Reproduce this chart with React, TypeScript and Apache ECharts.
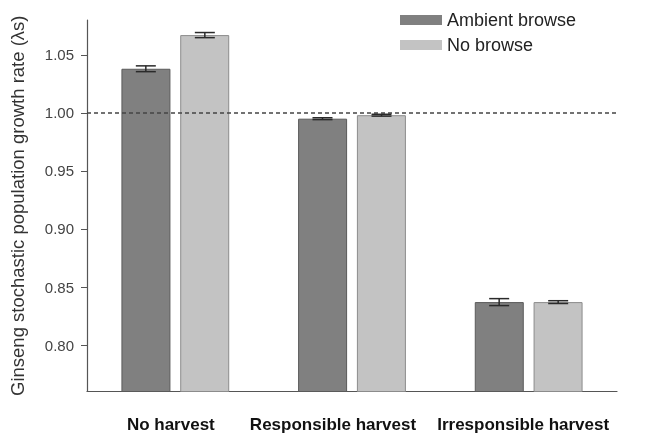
import React, { useEffect, useRef } from "react";
import * as echarts from "echarts";

const categories = ["No harvest", "Responsible harvest", "Irresponsible harvest"];
const seriesNames = ["Ambient browse", "No browse"];
const ambientValues = [1.038, 0.995, 0.837];
const ambientErrors = [0.0025, 0.0008, 0.003];
const noBrowseValues = [1.067, 0.998, 0.837];
const noBrowseErrors = [0.0022, 0.0008, 0.0012];
const yTicks = [0.8, 0.85, 0.9, 0.95, 1.0, 1.05];
const referenceValue = 1.0;

const BAR_W = 49;
const GAP = 10;
const FONT = "Liberation Sans, Arial, Helvetica, sans-serif";
const labelShift = [9, 38, 11];

function errorSeries(values: number[], errors: number[], offset: number) {
  return {
    type: "custom",
    silent: true,
    z: 5,
    data: values.map((v, i) => [i, v - errors[i], v + errors[i]]),
    renderItem: (params: any, api: any) => {
      const i = api.value(0);
      const lo = api.coord([i, api.value(1)]);
      const hi = api.coord([i, api.value(2)]);
      const x = lo[0] + offset;
      const cap = 10;
      const style = { stroke: "#2a2a2a", lineWidth: 1.5 };
      return {
        type: "group",
        children: [
          { type: "line", shape: { x1: x, y1: lo[1], x2: x, y2: hi[1] }, style },
          { type: "line", shape: { x1: x - cap, y1: lo[1], x2: x + cap, y2: lo[1] }, style },
          { type: "line", shape: { x1: x - cap, y1: hi[1], x2: x + cap, y2: hi[1] }, style },
        ],
      };
    },
  };
}

export default function App() {
  const ref = useRef<HTMLDivElement>(null);
  useEffect(() => {
    if (!ref.current) return;
    const chart = echarts.init(ref.current, null, { renderer: "svg" });
    const off = (BAR_W + GAP) / 2;
    chart.setOption({
      animation: false,
      textStyle: { fontFamily: FONT },
      grid: { left: 86, right: 32, top: 20, bottom: 45.5 },
      legend: {
        orient: "vertical",
        left: 395,
        top: 5,
        itemWidth: 42,
        itemHeight: 10,
        itemGap: 5,
        icon: "rect",
        itemStyle: { borderWidth: 0 },
        textStyle: { fontSize: 18, color: "#222", fontFamily: FONT, lineHeight: 20 },
        data: seriesNames,
      },
      xAxis: {
        type: "category",
        data: categories.map((c, i) => ({
          value: c,
          textStyle: { padding: [0, labelShift[i], 0, 0] },
        })),
        axisLine: { lineStyle: { color: "#555", width: 1.2 } },
        axisTick: { show: false },
        axisLabel: {
          interval: 0,
          margin: 24,
          fontSize: 17,
          fontWeight: "bold",
          color: "#111",
          fontFamily: FONT,
        },
      },
      yAxis: {
        type: "value",
        min: 0.76,
        max: 1.08,
        name: "Ginseng stochastic population growth rate (λs)",
        nameLocation: "middle",
        nameRotate: 90,
        nameGap: 60,
        nameTextStyle: { fontSize: 18.5, color: "#333", fontFamily: FONT },
        axisLine: { show: true, lineStyle: { color: "#555", width: 1.2 } },
        axisTick: {
          show: true,
          inside: false,
          length: 6,
          customValues: yTicks,
          lineStyle: { color: "#555" },
        },
        axisLabel: {
          customValues: yTicks,
          formatter: (v: number) => v.toFixed(2),
          fontSize: 15,
          color: "#444",
          margin: 13,
          fontFamily: FONT,
        },
        splitLine: { show: false },
      },
      series: [
        {
          name: seriesNames[0],
          type: "bar",
          data: ambientValues,
          barWidth: BAR_W,
          barGap: "20%",
          itemStyle: { color: "#808080", borderColor: "#5a5a5a", borderWidth: 1 },
          markLine: {
            silent: true,
            symbol: "none",
            label: { show: false },
            lineStyle: { type: [4, 3], color: "#444", width: 1.5 },
            data: [{ yAxis: referenceValue }],
          },
        },
        {
          name: seriesNames[1],
          type: "bar",
          data: noBrowseValues,
          barWidth: BAR_W,
          barGap: "20%",
          itemStyle: { color: "#c3c3c3", borderColor: "#8c8c8c", borderWidth: 1 },
        },
        errorSeries(ambientValues, ambientErrors, -off),
        errorSeries(noBrowseValues, noBrowseErrors, off),
      ],
    });
    return () => chart.dispose();
  }, []);
  return (
    <div
      ref={ref}
      style={{ position: "fixed", left: 0, top: 0, width: 649, height: 437 }}
    />
  );
}
